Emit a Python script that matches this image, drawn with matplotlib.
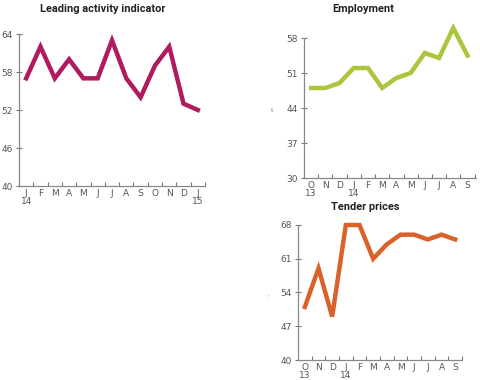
import matplotlib
matplotlib.use("Agg")
import matplotlib.pyplot as plt

# Leading activity indicator, Jan 14 - Jan 15
lead_labels = ["J\n14", "F", "M", "A", "M", "J", "J", "A", "S", "O", "N", "D", "J\n15"]
lead_values = [57, 62, 57, 60, 57, 57, 63, 57, 54, 59, 62, 53, 52]
lead_yticks = [40, 46, 52, 58, 64]

# Employment, Oct 13 - Sep 14
emp_labels = ["O\n13", "N", "D", "J\n14", "F", "M", "A", "M", "J", "J", "A", "S"]
emp_values = [48, 48, 49, 52, 52, 48, 50, 51, 55, 54, 60, 54.5]
emp_yticks = [30, 37, 44, 51, 58]

# Tender prices, Oct 13 - Sep 14
tender_labels = ["O\n13", "N", "D", "J\n14", "F", "M", "A", "M", "J", "J", "A", "S"]
tender_values = [51, 59, 49, 68, 68, 61, 64, 66, 66, 65, 66, 65]
tender_yticks = [40, 47, 54, 61, 68]

W, H = 480, 380
fig = plt.figure(figsize=(4.8, 3.8), dpi=100)
plt.rcParams['font.family'] = ['DejaVu Sans']


def panel(box, labels, values, yticks, color, title, ylab, ylab_xy, xright):
    l, t, r, b = box
    ax = fig.add_axes([l / W, 1 - b / H, (r - l) / W, (b - t) / H])
    n = len(values)
    ax.plot(range(n), values, color=color, lw=3.2, solid_joinstyle="miter",
            clip_on=False)
    ax.set_ylim(yticks[0], yticks[-1])
    ax.set_xlim(-0.5, xright)
    ax.set_yticks(yticks)
    ax.set_xticks(range(n))
    ax.set_xticklabels(labels, fontsize=6.5, color="#555555", linespacing=0.95)
    ax.set_xticks([i + 0.5 for i in range(n)], minor=True)
    ax.tick_params(axis="x", which="major", length=0, pad=2)
    ax.tick_params(axis="x", which="minor", direction="in", length=3,
                   color="#777777", width=0.8)
    ax.tick_params(axis="y", direction="inout", length=5, color="#777777",
                   width=0.8, labelsize=6.5, labelcolor="#555555", pad=2)
    for s in ["top", "right"]:
        ax.spines[s].set_visible(False)
    for s in ["left", "bottom"]:
        ax.spines[s].set_color("#888888")
        ax.spines[s].set_linewidth(0.9)
    fig.text((title[1]) / W, 1 - title[2] / H, title[0], fontsize=7.9,
             fontweight="bold", ha="center", va="center", color="#222222",
             family=["Roboto", "DejaVu Sans"])
    if ylab:
        fig.text(ylab_xy[0] / W, 1 - ylab_xy[1] / H, ylab, fontsize=4.5,
                 ha="center", va="center", color="#777777")
    return ax


panel((19, 34, 205, 186), lead_labels, lead_values, lead_yticks, "#B01A5E",
      ("Leading activity indicator", 103, 9), None, None, 12.5)
panel((304, 38, 476, 178), emp_labels, emp_values, emp_yticks, "#A9C63C",
      ("Employment", 363, 9), "t", (272, 110), 11.6)
panel((298, 225, 462, 360), tender_labels, tender_values, tender_yticks, "#D9622B",
      ("Tender prices", 365, 207), ":", (268, 297), 11.5)

fig.savefig("out.png", dpi=100)
